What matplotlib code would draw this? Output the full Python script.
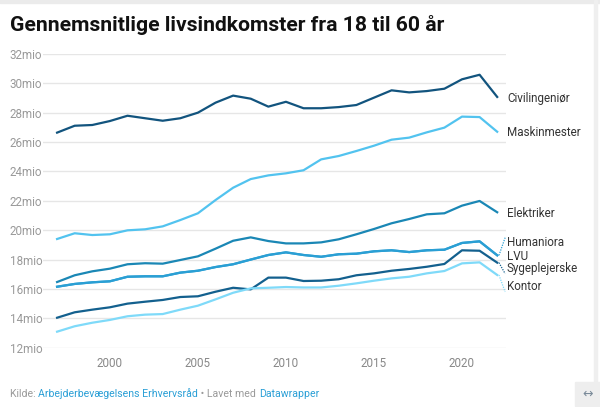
import matplotlib.pyplot as plt
import matplotlib.patches as mpatches

plt.rcParams['font.family'] = ['Roboto', 'DejaVu Sans']

# Data (mio. kr.)
years = list(range(1997, 2023))
civilingenioer = [26.64, 27.11, 27.16, 27.43, 27.79, 27.62, 27.45, 27.62, 28.00, 28.68, 29.16, 28.95, 28.41,
                  28.74, 28.30, 28.30, 28.38, 28.52, 29.02, 29.52, 29.38, 29.47, 29.63, 30.27, 30.58, 29.07]
maskinmester = [19.40, 19.79, 19.67, 19.72, 19.99, 20.06, 20.26, 20.69, 21.15, 22.05, 22.89, 23.48, 23.73,
                23.87, 24.08, 24.82, 25.05, 25.39, 25.75, 26.16, 26.30, 26.66, 26.98, 27.73, 27.70, 26.70]
elektriker = [16.47, 16.93, 17.20, 17.38, 17.68, 17.75, 17.72, 17.97, 18.22, 18.74, 19.28, 19.51, 19.26,
              19.10, 19.10, 19.17, 19.38, 19.72, 20.08, 20.47, 20.76, 21.08, 21.15, 21.67, 21.99, 21.22]
humaniora = [16.15, 16.34, 16.45, 16.52, 16.83, 16.86, 16.86, 17.11, 17.24, 17.49, 17.68, 18.00, 18.31,
             18.49, 18.31, 18.19, 18.36, 18.40, 18.56, 18.63, 18.51, 18.63, 18.67, 19.13, 19.24, 18.29]
lvu = [16.15, 16.34, 16.45, 16.52, 16.83, 16.86, 16.86, 17.11, 17.24, 17.49, 17.68, 18.00, 18.31,
       18.49, 18.31, 18.19, 18.36, 18.40, 18.56, 18.63, 18.51, 18.63, 18.67, 19.13, 19.24, 18.29]
sygeplejerske = [14.04, 14.41, 14.59, 14.75, 15.00, 15.13, 15.25, 15.45, 15.50, 15.81, 16.08, 15.97, 16.77,
                 16.77, 16.54, 16.56, 16.66, 16.93, 17.06, 17.24, 17.36, 17.51, 17.70, 18.63, 18.60, 17.79]
kontor = [13.09, 13.46, 13.70, 13.89, 14.14, 14.25, 14.29, 14.59, 14.86, 15.29, 15.74, 16.04, 16.08,
          16.13, 16.10, 16.10, 16.22, 16.38, 16.56, 16.72, 16.83, 17.06, 17.22, 17.74, 17.81, 16.95]

series_names = ['Civilingeniør', 'Maskinmester', 'Elektriker', 'LVU', 'Humaniora', 'Sygeplejerske', 'Kontor']
series_values = [civilingenioer, maskinmester, elektriker, lvu, humaniora, sygeplejerske, kontor]

y_ticks = [12, 14, 16, 18, 20, 22, 24, 26, 28, 30, 32]
y_tick_labels = ['12mio', '14mio', '16mio', '18mio', '20mio', '22mio', '24mio', '26mio', '28mio', '30mio', '32mio']
x_ticks = [2000, 2005, 2010, 2015, 2020]

# Styling
colors = {'Civilingeniør': '#12547e', 'Maskinmester': '#52c3ef', 'Elektriker': '#1a87b5',
          'LVU': '#2a9fd4', 'Humaniora': '#2a9fd4', 'Sygeplejerske': '#13608e', 'Kontor': '#7fdaf9'}
# label y position (data units) after de-overlapping, and whether a dotted connector is drawn
label_pos = {'Civilingeniør': (28.98, False), 'Maskinmester': (26.63, False), 'Elektriker': (21.15, False),
             'Humaniora': (19.14, True), 'LVU': (18.18, False), 'Sygeplejerske': (17.39, True),
             'Kontor': (16.15, True)}

fig = plt.figure(figsize=(6, 4.07), dpi=100)
ax = fig.add_axes([43 / 600, (407 - 347.7) / 407, (506 - 43) / 600, (347.7 - 53.9) / 407])

for name, vals in zip(series_names, series_values):
    ax.plot(years, vals, color=colors[name], lw=1.6, solid_joinstyle='round', zorder=3)

# direct labels at the line ends
for name, vals in zip(series_names, series_values):
    ly, connector = label_pos[name]
    ax.text(2022.55, ly, name, fontsize=8.4, color='#333333', va='center', ha='left', clip_on=False)
    if connector:
        end_y = ly + (0.35 if ly > vals[-1] else -0.35)
        ax.plot([years[-1] + 0.1, years[-1] + 0.45], [vals[-1], end_y],
                color=colors[name], lw=0.9, ls=(0, (1, 1)), clip_on=False)

ax.set_xlim(1996.2, 2022.5)
ax.set_ylim(12, 32)
ax.set_yticks(y_ticks, y_tick_labels)
ax.set_xticks(x_ticks)
ax.grid(axis='y', color='#e6e6e6', lw=1)
ax.set_axisbelow(True)
for s in ax.spines.values():
    s.set_visible(False)
ax.tick_params(axis='both', length=0, colors='#999999', labelsize=8.4)
ax.tick_params(axis='y', pad=24)
ax.tick_params(axis='x', pad=7)
for lab in ax.get_yticklabels():
    lab.set_horizontalalignment('left')
for lab in ax.get_xticklabels():
    lab.set_color('#888888')

fig.text(10 / 600, 1 - 25 / 407, 'Gennemsnitlige livsindkomster fra 18 til 60 år',
         fontsize=15.2, fontweight='bold', color='#111111', va='center', ha='left')

# footer with mixed colours
parts = [('Kilde: ', '#999999'), ('Arbejderbevægelsens Erhvervsråd', '#2a9fd6'),
         (' • Lavet med ', '#999999'), ('Datawrapper', '#2a9fd6')]
prev = fig.text(10 / 600, 1 - 394 / 407, parts[0][0], fontsize=7.6, color=parts[0][1], va='center', ha='left')
for txt, col in parts[1:]:
    prev = ax.annotate(txt, xy=(1, 0.5), xycoords=prev, va='center', ha='left', fontsize=7.6, color=col)

# frame decorations
fig.patches.append(mpatches.Rectangle((0, 1 - 3 / 407), 1, 3 / 407, transform=fig.transFigure,
                                      color='#ebebeb', zorder=0))
fig.patches.append(mpatches.Rectangle((594 / 600, 0), 3 / 600, 1, transform=fig.transFigure,
                                      color='#efefef', zorder=0))
fig.patches.append(mpatches.Rectangle((575 / 600, 1 - 406 / 407), 25 / 600, 24 / 407, transform=fig.transFigure,
                                      color='#eeeeee', zorder=1))
fig.text(587.5 / 600, 1 - 394 / 407, '↔', fontsize=9, color='#7a8a99', ha='center', va='center',
         family='DejaVu Sans')

fig.savefig('out.png', dpi=100, facecolor='white')
